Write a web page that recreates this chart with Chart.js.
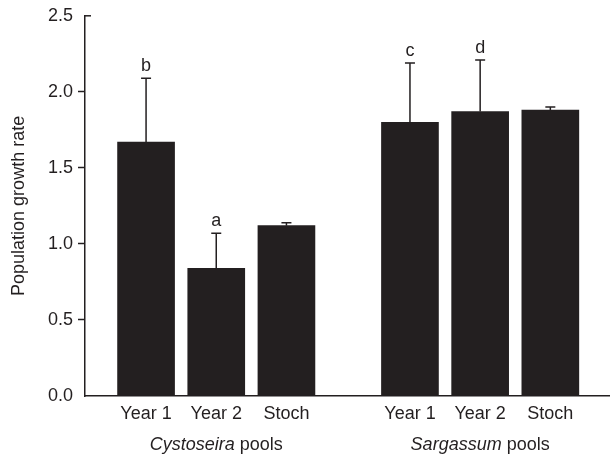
<!DOCTYPE html>
<html>
<head>
<meta charset="utf-8">
<script src="https://cdn.jsdelivr.net/npm/chart.js@4/dist/chart.umd.min.js"></script>
<style>
  html, body { margin: 0; padding: 0; background: #ffffff; }
  #wrap { width: 610px; height: 456px; }
</style>
</head>
<body>
<div id="wrap"><canvas id="c" width="610" height="456"></canvas></div>
<script>
// Population growth rate by year / stochastic model, in two pool types
const treatments = ['Year 1', 'Year 2', 'Stoch'];
const groupNames = ['Cystoseira', 'Sargassum'];
const cystoseiraMean = [1.67, 0.84, 1.12];
const cystoseiraUpper = [2.09, 1.07, 1.14];
const cystoseiraLetters = ['b', 'a', ''];
const sargassumMean = [1.80, 1.87, 1.88];
const sargassumUpper = [2.19, 2.21, 1.90];
const sargassumLetters = ['c', 'd', ''];
const yTicks = [0, 0.5, 1.0, 1.5, 2.0, 2.5];

const INK = '#231f20';
const FONT = '"Liberation Sans", Arial, Helvetica, sans-serif';
const FS = 18;

// bar positions along a numeric x axis: one unit per bar, a wider gap between pools
const GROUP_STEP = 3.76;
const means = [...cystoseiraMean, ...sargassumMean];
const uppers = [...cystoseiraUpper, ...sargassumUpper];
const letters = [...cystoseiraLetters, ...sargassumLetters];
const labels = [...treatments, ...treatments];
const xPos = labels.map((_, i) => 1 + Math.floor(i / treatments.length) * GROUP_STEP + (i % treatments.length));

const errorBars = {
  id: 'errorBars',
  afterDatasetsDraw(chart) {
    const { ctx, scales: { x, y } } = chart;
    ctx.save();
    ctx.strokeStyle = INK;
    ctx.lineWidth = 1.5;
    ctx.fillStyle = INK;
    ctx.font = FS + 'px ' + FONT;
    ctx.textAlign = 'center';
    ctx.textBaseline = 'alphabetic';
    xPos.forEach((xv, i) => {
      const px = x.getPixelForValue(xv);
      const top = y.getPixelForValue(uppers[i]);
      const base = y.getPixelForValue(means[i]);
      ctx.beginPath();
      ctx.moveTo(px, base);
      ctx.lineTo(px, top);
      ctx.moveTo(px - 5, top);
      ctx.lineTo(px + 5, top);
      ctx.stroke();
      if (letters[i]) ctx.fillText(letters[i], px, top - 7);
    });
    ctx.restore();
  }
};

const axisDecor = {
  id: 'axisDecor',
  afterDraw(chart) {
    const { ctx, scales: { x, y }, chartArea } = chart;
    ctx.save();
    // short inward tick at the top of the value axis
    ctx.strokeStyle = INK;
    ctx.lineWidth = 1.5;
    const yt = y.getPixelForValue(2.5);
    ctx.beginPath();
    ctx.moveTo(chartArea.left, yt);
    ctx.lineTo(chartArea.left + 6, yt);
    ctx.stroke();
    // pool names under each group of bars
    ctx.fillStyle = INK;
    ctx.textBaseline = 'middle';
    groupNames.forEach((name, g) => {
      const mid = x.getPixelForValue(xPos[g * treatments.length + 1]);
      const italic = 'italic ' + FS + 'px ' + FONT;
      const normal = FS + 'px ' + FONT;
      ctx.font = italic;
      const w1 = ctx.measureText(name).width;
      ctx.font = normal;
      const w2 = ctx.measureText(' pools').width;
      const start = mid - (w1 + w2) / 2;
      ctx.textAlign = 'left';
      ctx.font = italic;
      ctx.fillText(name, start, 445);
      ctx.font = normal;
      ctx.fillText(' pools', start + w1, 445);
    });
    ctx.restore();
  }
};

new Chart(document.getElementById('c'), {
  type: 'bar',
  data: {
    datasets: [{
      data: xPos.map((xv, i) => ({ x: xv, y: means[i] })),
      backgroundColor: INK,
      borderWidth: 0,
      barThickness: 57
    }]
  },
  options: {
    responsive: false,
    animation: false,
    layout: { padding: { top: 15, right: 0, left: 0, bottom: 0 } },
    plugins: { legend: { display: false }, tooltip: { enabled: false } },
    scales: {
      x: {
        type: 'linear',
        offset: false,
        min: 0.13,
        max: 7.61,
        afterBuildTicks(scale) { scale.ticks = xPos.map(v => ({ value: v })); },
        ticks: {
          autoSkip: false,
          maxRotation: 0,
          padding: -1,
          color: INK,
          font: { family: FONT, size: FS },
          callback(value, index) { return labels[index]; }
        },
        grid: { display: false, offset: false },
        border: { display: true, color: INK, width: 1.5 },
        afterFit(scale) { scale.height = 60; }
      },
      y: {
        min: 0,
        max: 2.5,
        afterBuildTicks(scale) { scale.ticks = yTicks.map(v => ({ value: v })); },
        ticks: {
          padding: 5,
          color: INK,
          font: { family: FONT, size: FS },
          callback(value) { return value.toFixed(1); }
        },
        grid: {
          drawOnChartArea: false,
          drawTicks: true,
          tickLength: 7,
          tickWidth: 1.5,
          color(ctx) {
            const v = ctx.tick && ctx.tick.value;
            return (v === 0 || v === 2.5) ? 'rgba(0,0,0,0)' : INK;
          }
        },
        border: { display: true, color: INK, width: 1.5 },
        title: {
          display: true,
          text: 'Population growth rate',
          color: INK,
          font: { family: FONT, size: FS },
          padding: { top: 8, bottom: 0 }
        },
        afterFit(scale) { scale.width = 85; }
      }
    }
  },
  plugins: [errorBars, axisDecor]
});
</script>
</body>
</html>
